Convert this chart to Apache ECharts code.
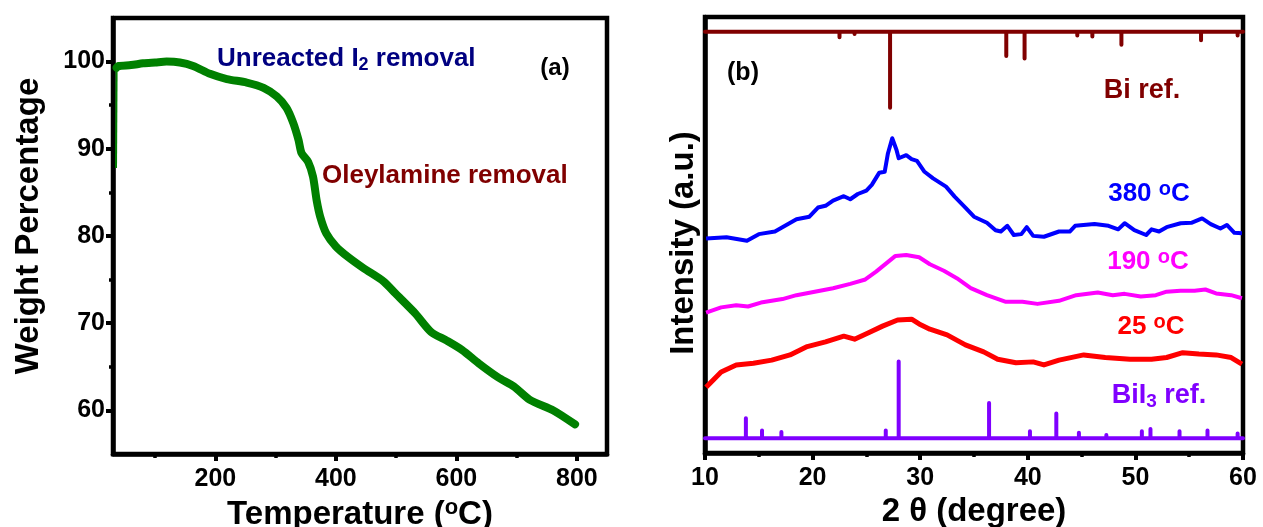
<!DOCTYPE html>
<html>
<head>
<meta charset="utf-8">
<script src="https://cdn.jsdelivr.net/npm/echarts@6/dist/echarts.min.js"></script>
<style>
  html, body { margin: 0; padding: 0; background: #fff; }
  #chart { width: 1263px; height: 527px; }
</style>
</head>
<body>
<div id="chart"></div>
<script>
// (a) TGA: temperature (°C) vs. remaining weight (%)
const tgaTemp   = [36, 39, 60, 80, 100, 119, 141, 163, 191, 219, 252, 280, 302, 318, 329, 338, 343, 354, 362, 368, 374, 384, 400, 420, 446, 479, 499, 532, 558, 584, 610, 637, 669, 696, 722, 761, 797];
const tgaWeight = [99.3, 99.5, 99.6, 99.8, 99.9, 100.0, 99.9, 99.5, 98.6, 98.0, 97.6, 97.0, 96.0, 94.7, 93.0, 91.0, 89.5, 88.5, 86.8, 84.1, 82.2, 80.3, 78.8, 77.6, 76.3, 74.8, 73.4, 71.1, 69.0, 68.0, 66.9, 65.4, 63.8, 62.7, 61.2, 60.0, 58.4];
// initial jump at the start of the run
const tgaRiseTemp   = [35, 36];
const tgaRiseWeight = [87.8, 99.3];

const tempLabels   = [200, 400, 600, 800];
const tempMinor    = [100, 300, 500, 700];
const weightLabels = [60, 70, 80, 90, 100];
const weightMinor  = [65, 75, 85, 95];

// (b) XRD patterns, stacked (2θ in degrees, intensity in a.u.)
const xrd380Theta = [10.1, 12.0, 13.9, 15.0, 16.5, 18.5, 19.7, 20.5, 21.2, 21.9, 22.9, 23.5, 24.2, 25.0, 25.5, 26.2, 26.7, 27.0, 27.4, 27.8, 28.0, 28.7, 29.2, 29.7, 30.4, 31.2, 32.4, 33.2, 34.2, 35.0, 36.2, 37.0, 37.5, 38.1, 38.7, 39.4, 39.9, 40.5, 41.5, 42.9, 43.9, 44.4, 46.2, 47.5, 48.4, 49.0, 49.9, 51.0, 51.5, 52.2, 52.9, 54.2, 55.2, 56.2, 57.0, 57.9, 58.5, 59.2, 59.9];
const xrd380      = [49.2, 49.5, 48.7, 50.2, 50.8, 53.6, 54.2, 56.3, 56.7, 57.9, 58.9, 58.2, 59.4, 60.2, 61.5, 64.3, 64.5, 68.7, 72.2, 69.5, 67.6, 68.3, 67.4, 67.0, 64.5, 63.0, 61.1, 58.8, 56.3, 54.2, 52.8, 51.1, 50.8, 52.1, 50.0, 50.2, 51.8, 49.8, 49.6, 50.8, 50.8, 52.1, 52.5, 52.1, 51.3, 52.7, 51.1, 50.0, 51.3, 50.8, 51.8, 52.7, 52.8, 53.8, 52.5, 51.5, 52.3, 50.5, 50.4];

const xrd190Theta = [10.1, 11.5, 12.9, 14.0, 15.2, 17.2, 18.5, 20.2, 21.9, 23.5, 24.9, 25.9, 26.9, 27.7, 28.7, 29.9, 30.9, 32.2, 33.4, 34.7, 36.2, 37.9, 39.5, 40.9, 42.9, 44.5, 46.5, 47.9, 49.0, 50.5, 51.9, 52.9, 54.2, 55.5, 56.5, 57.5, 58.9, 59.9];
const xrd190      = [32.2, 33.4, 33.9, 33.6, 34.5, 35.3, 36.2, 37.0, 37.8, 38.8, 39.8, 41.6, 43.6, 45.2, 45.4, 44.9, 43.3, 41.8, 40.1, 37.8, 36.2, 34.7, 34.7, 34.2, 34.9, 36.2, 36.8, 36.2, 36.5, 35.9, 36.2, 37.0, 37.2, 37.2, 37.5, 36.6, 36.2, 35.5];

const xrd25Theta = [10.1, 11.5, 12.9, 14.5, 16.2, 17.9, 19.5, 21.2, 22.9, 23.9, 25.2, 26.5, 27.9, 29.2, 29.9, 30.9, 32.5, 34.2, 35.9, 37.2, 38.9, 40.5, 41.5, 42.9, 45.2, 47.2, 49.5, 51.5, 52.9, 54.4, 55.9, 57.5, 58.9, 59.9];
const xrd25      = [15.1, 18.6, 20.2, 20.6, 21.3, 22.5, 24.4, 25.5, 26.8, 26.1, 27.6, 29.1, 30.5, 30.7, 29.6, 28.4, 27.1, 24.8, 23.2, 21.5, 20.7, 20.9, 20.2, 21.3, 22.5, 21.9, 21.5, 21.5, 21.9, 23.0, 22.7, 22.5, 21.9, 20.4];

// reference patterns: peak positions (2θ) and relative intensities (%)
const biRefPos   = [22.5, 23.9, 27.2, 38.0, 39.7, 44.6, 46.0, 48.7, 56.1, 59.5];
const biRefRel   = [7, 3, 100, 32, 35, 5, 6, 17, 11, 5];
const bii3RefPos = [13.8, 15.3, 17.1, 26.8, 28.0, 36.4, 40.2, 42.65, 44.75, 47.3, 50.6, 51.4, 54.1, 56.7, 59.5];
const bii3RefRel = [26, 10, 8, 10, 100, 46, 9, 32, 7, 4, 9, 12, 9, 10, 6];

const FONT = "'Liberation Sans', Arial, sans-serif";

function pairs(xs, ys) { return xs.map((x, i) => [x, ys[i]]); }

// stick pattern drawn along a baseline; dir = +1 up, -1 down
function sticks(pos, rel, base, dir, full, xMin, xMax) {
  const pts = [[xMin, base]];
  pos.forEach((p, i) => {
    pts.push([p, base], [p, base + dir * rel[i] * full / 100], [p, base]);
  });
  pts.push([xMax, base]);
  return pts;
}

const axisLineStyle = { show: true, onZero: false, lineStyle: { color: '#000', width: 4.5 } };
const labelStyle = { color: '#000', fontSize: 25, fontWeight: 'bold', fontFamily: FONT };
function nameStyle(padding) {
  return {
    color: '#000', fontSize: 33, fontWeight: 'bold', fontFamily: FONT,
    padding: padding || 0,
    rich: {
      t: { color: '#000', fontSize: 33, fontWeight: 'bold', fontFamily: FONT, lineHeight: 36 },
      s: { color: '#000', fontSize: 22, fontWeight: 'bold', fontFamily: FONT, lineHeight: 8, verticalAlign: 'top' }
    }
  };
}

function richStyles(color, size) {
  return {
    m: { fill: color, fontSize: size, fontWeight: 'bold', fontFamily: FONT, lineHeight: size + 4 },
    sup: { fill: color, fontSize: Math.round(size * 0.75), fontWeight: 'bold', fontFamily: FONT, lineHeight: 8, verticalAlign: 'top' },
    sub: { fill: color, fontSize: Math.round(size * 0.7), fontWeight: 'bold', fontFamily: FONT, lineHeight: 4, verticalAlign: 'bottom' }
  };
}

function textEl(x, y, text, color, size, align) {
  return {
    type: 'text', x: x, y: y, z: 100,
    style: {
      text: text, align: align || 'center', verticalAlign: 'middle',
      fill: color, fontSize: size, fontWeight: 'bold', fontFamily: FONT,
      rich: richStyles(color, size)
    }
  };
}

const chart = echarts.init(document.getElementById('chart'), null, { renderer: 'canvas' });

chart.setOption({
  animation: false,
  backgroundColor: '#fff',
  grid: [
    { left: 113, top: 18, width: 494, height: 436, show: true, borderColor: '#000', borderWidth: 4.5, outerBoundsMode: 'none', containLabel: false },
    { left: 705, top: 17, width: 538, height: 436, show: true, borderColor: '#000', borderWidth: 4.5, outerBoundsMode: 'none', containLabel: false }
  ],
  xAxis: [
    {
      type: 'value', gridIndex: 0, position: 'bottom', min: 30, max: 850,
      axisLine: axisLineStyle,
      axisTick: { show: true, inside: false, length: 7, customValues: tempLabels, lineStyle: { color: '#000', width: 4 } },
      axisLabel: Object.assign({ margin: 13, customValues: tempLabels }, labelStyle),
      splitLine: { show: false },
      name: '{t|Temperature (}{s|o}{t|C)}', nameLocation: 'middle', nameGap: 38, nameTextStyle: nameStyle()
    },
    {
      type: 'value', gridIndex: 0, position: 'bottom', min: 30, max: 850,
      axisLine: { show: false },
      axisTick: { show: true, inside: false, length: 4, customValues: tempMinor, lineStyle: { color: '#000', width: 3.5 } },
      axisLabel: { show: false },
      splitLine: { show: false }
    },
    {
      type: 'value', gridIndex: 1, position: 'bottom', min: 10, max: 60, interval: 10,
      axisLine: axisLineStyle,
      axisTick: { show: true, inside: false, length: 7, lineStyle: { color: '#000', width: 4 } },
      minorTick: { show: true, splitNumber: 2, length: 4, lineStyle: { color: '#000', width: 3.5 } },
      axisLabel: Object.assign({ margin: 13 }, labelStyle),
      splitLine: { show: false },
      name: '2 θ (degree)', nameLocation: 'middle', nameGap: 38, nameTextStyle: nameStyle()
    }
  ],
  yAxis: [
    {
      type: 'value', gridIndex: 0, position: 'left', min: 55, max: 105,
      axisLine: axisLineStyle,
      axisTick: { show: true, inside: false, length: 7, customValues: weightLabels, lineStyle: { color: '#000', width: 4 } },
      axisLabel: Object.assign({ margin: 8, customValues: weightLabels }, labelStyle),
      splitLine: { show: false },
      name: 'Weight Percentage', nameLocation: 'middle', nameGap: 68, nameRotate: 90,
      nameTextStyle: nameStyle([0, 0, 0, 20])
    },
    {
      type: 'value', gridIndex: 0, position: 'left', min: 55, max: 105,
      axisLine: { show: false },
      axisTick: { show: true, inside: false, length: 4, customValues: weightMinor, lineStyle: { color: '#000', width: 3.5 } },
      axisLabel: { show: false },
      splitLine: { show: false }
    },
    {
      type: 'value', gridIndex: 1, position: 'left', min: 0, max: 100,
      axisLine: axisLineStyle,
      axisTick: { show: false },
      axisLabel: { show: false },
      splitLine: { show: false },
      name: 'Intensity (a.u.)', nameLocation: 'middle', nameGap: 5, nameRotate: 90,
      nameTextStyle: nameStyle([0, 16, 0, 0])
    }
  ],
  series: [
    {
      name: 'TGA', type: 'line', xAxisIndex: 0, yAxisIndex: 0, showSymbol: false, smooth: 0.25,
      data: pairs(tgaTemp, tgaWeight),
      lineStyle: { color: '#008000', width: 8, cap: 'round', join: 'round' }
    },
    {
      name: 'TGA start', type: 'line', xAxisIndex: 0, yAxisIndex: 0, showSymbol: false,
      data: pairs(tgaRiseTemp, tgaRiseWeight),
      lineStyle: { color: '#008000', width: 2 }
    },
    {
      name: 'Bi ref.', type: 'line', xAxisIndex: 2, yAxisIndex: 2, showSymbol: false,
      data: sticks(biRefPos, biRefRel, 96.6, -1, 17.4, 10, 60),
      lineStyle: { color: '#800000', width: 4, cap: 'round', join: 'round' }
    },
    {
      name: '380 °C', type: 'line', xAxisIndex: 2, yAxisIndex: 2, showSymbol: false,
      data: pairs(xrd380Theta, xrd380),
      lineStyle: { color: '#0000ff', width: 4, join: 'round' }
    },
    {
      name: '190 °C', type: 'line', xAxisIndex: 2, yAxisIndex: 2, showSymbol: false,
      data: pairs(xrd190Theta, xrd190),
      lineStyle: { color: '#ff00ff', width: 4, join: 'round' }
    },
    {
      name: '25 °C', type: 'line', xAxisIndex: 2, yAxisIndex: 2, showSymbol: false,
      data: pairs(xrd25Theta, xrd25),
      lineStyle: { color: '#ff0000', width: 5, join: 'round' }
    },
    {
      name: 'BiI3 ref.', type: 'line', xAxisIndex: 2, yAxisIndex: 2, showSymbol: false,
      data: sticks(bii3RefPos, bii3RefRel, 3.4, 1, 17.6, 10, 60),
      lineStyle: { color: '#7f00ff', width: 4, cap: 'round', join: 'round' }
    }
  ],
  graphic: [
    textEl(217, 59, '{m|Unreacted I}{sub|2}{m| removal}', '#000080', 26, 'left'),
    textEl(322, 176, '{m|Oleylamine removal}', '#800000', 26, 'left'),
    textEl(555, 68, '{m|(a)}', '#000', 24),
    textEl(743, 73, '{m|(b)}', '#000', 25),
    textEl(1142, 91, '{m|Bi ref.}', '#800000', 27),
    textEl(1149, 194, '{m|380 }{sup|o}{m|C}', '#0000ff', 26),
    textEl(1148, 262, '{m|190 }{sup|o}{m|C}', '#ff00ff', 26),
    textEl(1151, 327, '{m|25 }{sup|o}{m|C}', '#ff0000', 26),
    textEl(1159, 396, '{m|BiI}{sub|3}{m| ref.}', '#8000ff', 27)
  ]
});
</script>
</body>
</html>
